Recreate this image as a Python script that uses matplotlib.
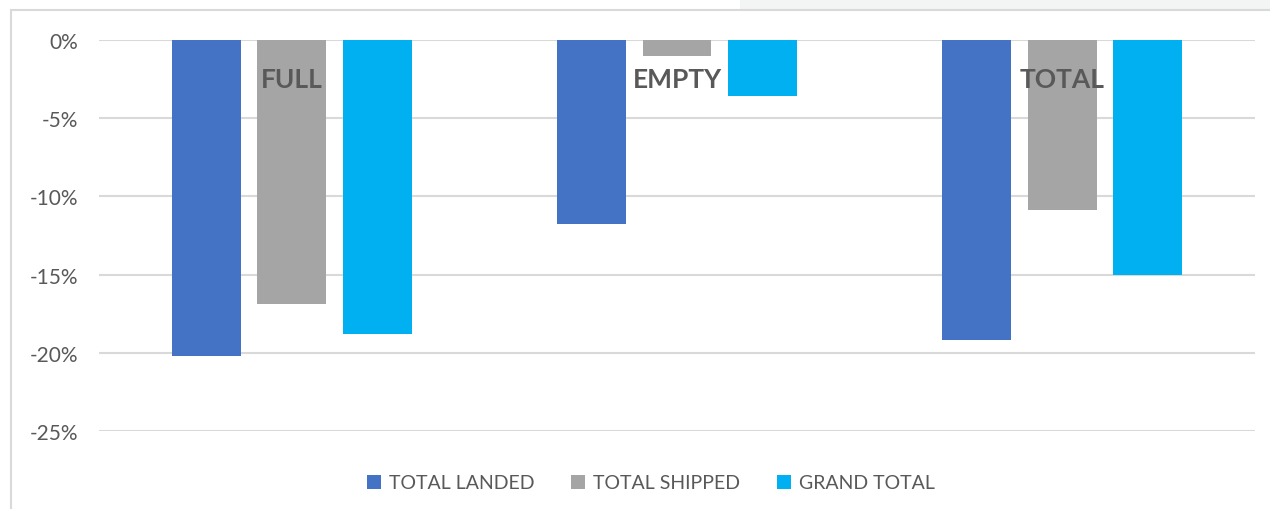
import matplotlib
matplotlib.use("Agg")
import matplotlib.pyplot as plt
from matplotlib.patches import Rectangle, Patch
import numpy as np

categories = ["FULL", "EMPTY", "TOTAL"]
series_names = ["TOTAL LANDED", "TOTAL SHIPPED", "GRAND TOTAL"]
total_landed = [-20.2, -11.75, -19.2]
total_shipped = [-16.85, -1.05, -10.9]
grand_total = [-18.8, -3.55, -15.05]
y_ticks = [0, -5, -10, -15, -20, -25]
y_tick_labels = ["0%", "-5%", "-10%", "-15%", "-20%", "-25%"]
colors = ["#4472C4", "#A5A5A5", "#00B0F0"]

plt.rcParams['font.family'] = ['Lato', 'DejaVu Sans']

fig = plt.figure(figsize=(12.7, 5.1), dpi=100)
W, H = 1270, 510

# screenshot frame details
fig.patches.append(Rectangle((740 / W, 1 - 10 / H), 530 / W, 10 / H, transform=fig.transFigure,
                             facecolor="#f3f4f4", edgecolor="none", zorder=-2))
fig.patches.append(Rectangle((11 / W, -0.05), 1.2, 1 - 11 / H + 0.05, transform=fig.transFigure,
                             facecolor="white", edgecolor="#d9d9d9", linewidth=1.5, zorder=-1))

ax = fig.add_axes([99 / W, 1 - 432 / H, (1255 - 99) / W, (432 - 41) / H])
ax.set_zorder(1)
ax.set_facecolor("none")

x = np.arange(len(categories))
width = 0.179
step = 0.222
series = [total_landed, total_shipped, grand_total]
for i, (vals, name, c) in enumerate(zip(series, series_names, colors)):
    ax.bar(x + (i - 1) * step, vals, width=width, color=c, label=name, zorder=3)

for xi, cat in zip(x, categories):
    ax.text(xi, -2.5, cat, ha="center", va="center", fontsize=19, fontweight="bold",
            color="#595959", zorder=4)

ax.set_xlim(-0.5, len(categories) - 0.5)
ax.set_ylim(-25, 0)
ax.set_yticks(y_ticks)
ax.set_yticklabels(y_tick_labels, fontsize=15, color="#595959")
ax.set_xticks([])
ax.tick_params(axis="y", length=0, pad=15)
for s in ax.spines.values():
    s.set_visible(False)
ax.yaxis.grid(True, color="#d9d9d9", linewidth=1.5, zorder=0)
ax.set_axisbelow(True)

handles = [Patch(facecolor=c, edgecolor="none") for c in colors]
fig.legend(handles, series_names, loc="center", bbox_to_anchor=(651 / W, 1 - 484 / H),
           ncol=3, frameon=False, fontsize=14, handlelength=0.72, handleheight=0.72,
           handletextpad=0.4, columnspacing=1.9, labelcolor="#595959")

fig.savefig("out.png", dpi=100)
